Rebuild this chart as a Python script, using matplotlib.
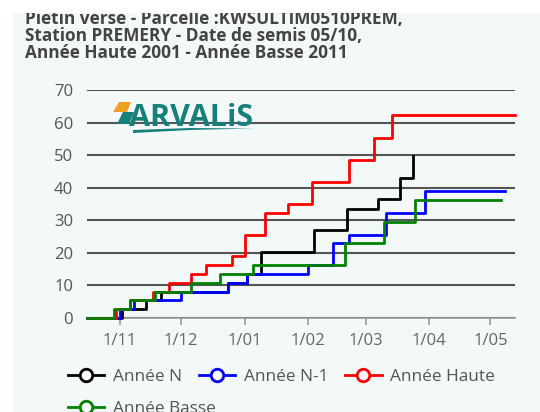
import pandas as pd
import matplotlib.pyplot as plt
from matplotlib.patches import Rectangle, Polygon
from matplotlib.lines import Line2D

# step data (cumulative values)
dates_n = ['2022-10-16', '2022-11-02', '2022-11-14', '2022-11-21', '2022-12-24', '2023-01-02',
           '2023-01-09', '2023-02-04', '2023-02-20', '2023-03-07', '2023-03-18', '2023-03-24']
vals_n = [0, 2.7, 5.4, 8.1, 10.8, 13.5, 20.2, 26.9, 33.6, 36.4, 43.1, 49.8]

dates_n1 = ['2022-10-16', '2022-11-01', '2022-11-08', '2022-12-01', '2022-12-24', '2023-01-02',
            '2023-02-01', '2023-02-13', '2023-02-21', '2023-03-11', '2023-03-30', '2023-05-08']
vals_n1 = [0, 2.7, 5.4, 8.1, 10.8, 13.5, 16.2, 22.9, 25.6, 32.3, 39.0, 39.0]

dates_haute = ['2022-10-16', '2022-10-30', '2022-11-06', '2022-11-17', '2022-11-25', '2022-12-06',
               '2022-12-13', '2022-12-26', '2023-01-01', '2023-01-11', '2023-01-22', '2023-02-03',
               '2023-02-21', '2023-03-05', '2023-03-14', '2023-05-13']
vals_haute = [0, 2.8, 5.4, 8.1, 10.8, 13.5, 16.2, 18.9, 25.6, 32.2, 35.0, 41.7, 48.6, 55.4, 62.2, 62.2]

dates_basse = ['2022-10-16', '2022-10-29', '2022-11-06', '2022-11-18', '2022-12-06', '2022-12-20',
               '2023-01-05', '2023-02-19', '2023-03-10', '2023-03-25', '2023-05-06']
vals_basse = [0, 2.7, 5.4, 8.1, 10.8, 13.5, 16.2, 22.9, 29.6, 36.3, 36.3]

month_ticks = ['2022-11-01', '2022-12-01', '2023-01-01', '2023-02-01', '2023-03-01', '2023-04-01', '2023-05-01']
month_labels = ['1/11', '1/12', '1/01', '1/02', '1/03', '1/04', '1/05']

title_lines = ["Piétin verse - Parcelle :KWSULTIM0510PREM,",
               "Station PREMERY - Date de semis 05/10,",
               "Année Haute 2001 - Année Basse 2011"]

plt.rcParams['font.family'] = ['Open Sans', 'DejaVu Sans']
W, H = 540, 412
fig = plt.figure(figsize=(W / 100, H / 100), dpi=100, facecolor='white')
fig.patches.append(Rectangle((13 / W, 0), 1, 1 - 13 / H, transform=fig.transFigure,
                             facecolor='#f3f8f8', edgecolor='none', zorder=-10))
# white band on top hides the upper part of the first title line
fig.add_artist(Rectangle((0, 1 - 13 / H), 1, 13 / H, transform=fig.transFigure,
                         facecolor='white', edgecolor='none', zorder=20))

ax = fig.add_axes([87 / W, 1 - 318 / H, (515 - 87) / W, (318 - 90) / H])
ax.set_facecolor('none')

series = [
    (dates_n, vals_n, 'black', 'Année N'),
    (dates_n1, vals_n1, '#0000ff', 'Année N-1'),
    (dates_haute, vals_haute, '#ff0000', 'Année Haute'),
    (dates_basse, vals_basse, '#008000', 'Année Basse'),
]
handles = []
for d, v, c, lab in series:
    ax.plot(pd.to_datetime(d), v, color=c, lw=2, drawstyle='steps-post', zorder=3, clip_on=False)
    handles.append(Line2D([], [], color=c, lw=2, marker='o', markersize=9,
                          markerfacecolor='white', markeredgewidth=2, label=lab))

ax.set_ylim(0, 70)
ax.set_yticks(range(0, 71, 10))
ax.set_xlim(pd.Timestamp('2022-10-16'), pd.Timestamp('2023-05-13'))
ax.set_xticks(pd.to_datetime(month_ticks))
ax.set_xticklabels(month_labels)
ax.grid(axis='y', color='#555555', lw=1.5)
ax.set_axisbelow(True)
for s in ['top', 'right', 'left']:
    ax.spines[s].set_visible(False)
ax.spines['bottom'].set_color('#9a9a9a')
ax.spines['bottom'].set_linewidth(1.2)
ax.tick_params(axis='y', length=0, pad=10, labelsize=12, labelcolor='#555555')
ax.tick_params(axis='x', length=5, color='#9a9a9a', width=1.2, pad=6, labelsize=12, labelcolor='#666666')

for i, line in enumerate(title_lines):
    fig.text(25 / W, 1 - (24 + 17 * i) / H, line, fontsize=12.4, fontweight='bold',
             color='#444444', va='baseline', ha='left')

# ARVALIS logo
teal = '#17807a'
fig.text(129 / W, 1 - 126 / H, 'ARVALiS', fontsize=22, fontweight='bold', color=teal,
         va='baseline', ha='left')
fig.patches.append(Polygon([(113 / W, 1 - 112 / H), (119 / W, 1 - 102 / H), (131 / W, 1 - 102 / H),
                            (127 / W, 1 - 112 / H)], closed=True, transform=fig.transFigure,
                           facecolor='#f0a020', edgecolor='none'))
fig.patches.append(Polygon([(117 / W, 1 - 124 / H), (123 / W, 1 - 112 / H), (134 / W, 1 - 112 / H),
                            (129 / W, 1 - 124 / H)], closed=True, transform=fig.transFigure,
                           facecolor=teal, edgecolor='none'))
fig.patches.append(Polygon([(133 / W, 1 - 130 / H), (190 / W, 1 - 128 / H), (254 / W, 1 - 128.5 / H),
                            (190 / W, 1 - 130 / H), (133 / W, 1 - 133 / H)], closed=True,
                           transform=fig.transFigure, facecolor=teal, edgecolor='none'))

leg_kw = dict(frameon=False, fontsize=12.4, labelcolor='#555555', handlelength=2.1,
              handletextpad=0.5, columnspacing=1.0, borderaxespad=0, borderpad=0)
leg1 = fig.legend(handles=handles[:3], ncol=3, loc='center left',
                  bbox_to_anchor=(68 / W, 1 - 377 / H), **leg_kw)
leg2 = fig.legend(handles=handles[3:], ncol=1, loc='center left',
                  bbox_to_anchor=(68 / W, 1 - 409 / H), **leg_kw)

fig.savefig('out.png', dpi=100, facecolor=fig.get_facecolor())
